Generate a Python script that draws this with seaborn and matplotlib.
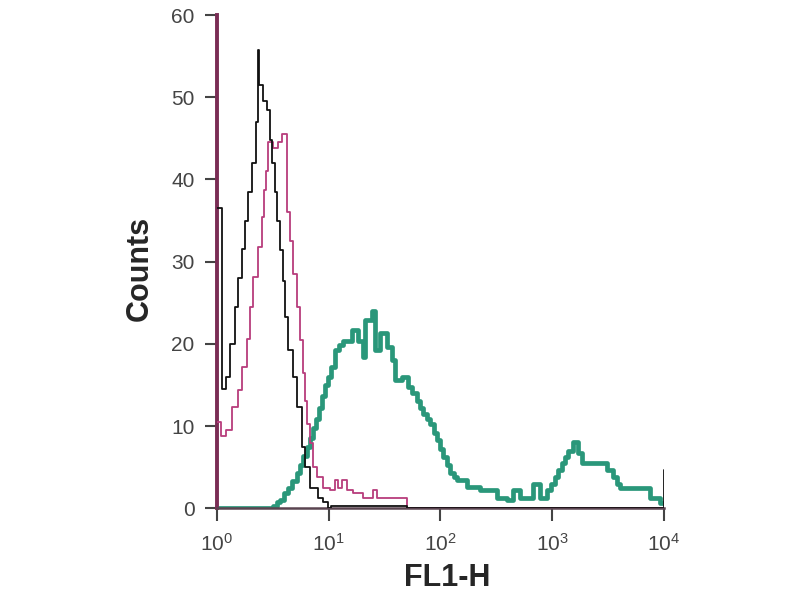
import numpy as np
import pandas as pd
import matplotlib
matplotlib.use("Agg")
import matplotlib.pyplot as plt
import seaborn as sns

# ---- data (FL1-H channel start, counts) step histograms ----
black_x = [1.00, 1.11, 1.20, 1.31, 1.45, 1.54, 1.67, 1.78, 1.89, 2.06, 2.23, 2.33,
           2.36, 2.38, 2.58, 2.80, 2.98, 3.10, 3.30, 3.44, 3.66, 3.90, 4.06, 4.32,
           4.79, 5.20, 5.77, 6.12, 6.79, 8.00, 8.90, 9.80, 10.5, 50.1, 10000]
black_y = [36.5, 14.5, 16.0, 20.0, 24.5, 28.0, 31.5, 35.0, 38.5, 42.0, 47.0, 51.0,
           55.7, 51.5, 49.5, 48.5, 44.8, 42.0, 38.5, 35.0, 31.4, 27.7, 23.2, 19.2,
           16.0, 12.3, 7.4, 5.0, 2.5, 1.2, 0.8, 0.0, 0.3, 0.0, 4.6]

magenta_x = [1.00, 1.09, 1.20, 1.36, 1.54, 1.67, 1.85, 1.97, 2.10, 2.33, 2.53, 2.63,
             2.74, 2.86, 3.17, 3.52, 3.82, 4.23, 4.50, 4.79, 5.20, 5.53, 5.89, 6.12,
             6.39, 6.79, 7.23, 7.85, 8.89, 10.3, 11.4, 12.1, 13.1, 14.6, 16.5, 20.3,
             24.9, 27.0, 50.1, 10000]
magenta_y = [10.5, 8.8, 9.5, 12.3, 14.4, 17.2, 20.6, 24.5, 28.1, 31.8, 35.4, 38.7,
             41.0, 44.5, 43.8, 44.5, 45.5, 36.0, 32.5, 28.5, 24.5, 20.5, 16.5, 13.0,
             10.3, 7.9, 5.0, 3.8, 2.5, 2.2, 3.4, 2.5, 3.4, 2.2, 1.8, 1.3,
             2.2, 1.2, 0.0, 0.0]

green_x = [1.00, 3.17, 3.44, 3.66, 3.98, 4.32, 4.69, 5.20, 5.53, 5.89, 6.39, 6.79,
           7.23, 7.69, 8.18, 8.70, 9.25, 9.85, 10.5, 11.4, 12.4, 13.4, 16.1, 18.3,
           20.3, 21.1, 24.4, 25.9, 28.8, 33.2, 36.8, 39.2, 45.2, 51.2, 55.6, 61.6,
           65.6, 69.7, 75.7, 80.5, 87.5, 93.0, 99.0, 105, 114, 122, 132, 141, 173,
           225, 321, 394, 445, 514, 673, 777, 897, 975, 1058, 1125, 1223, 1300,
           1384, 1535, 1700, 1845, 3090, 3499, 3793, 4038, 7499, 9210, 10000]
green_y = [0.0, 0.3, 0.7, 1.0, 1.8, 2.5, 3.3, 4.3, 5.2, 6.3, 7.4, 8.6,
           9.7, 10.8, 12.2, 13.6, 15.0, 16.0, 17.2, 19.2, 19.8, 20.4, 21.7, 20.4,
           18.4, 22.9, 24.0, 19.2, 21.3, 19.6, 18.0, 15.6, 16.0, 14.7, 14.0, 13.1,
           12.2, 11.5, 10.8, 10.3, 9.2, 8.3, 7.2, 6.2, 5.2, 4.3, 3.8, 3.4, 2.6,
           2.2, 1.3, 1.0, 2.2, 1.3, 3.0, 1.2, 2.2, 3.0, 3.8, 4.6, 5.5, 6.2,
           7.0, 8.0, 6.7, 5.5, 4.6, 3.8, 3.0, 2.4, 1.3, 0.6, 0.6]

y_ticks = [0, 10, 20, 30, 40, 50, 60]
x_ticks = [1, 10, 100, 1000, 10000]
x_tick_labels = [r"$10^{0}$", r"$10^{1}$", r"$10^{2}$", r"$10^{3}$", r"$10^{4}$"]

sns.set_style("ticks")
plt.rcParams["font.family"] = ["Liberation Sans", "DejaVu Sans"]
plt.rcParams["mathtext.fontset"] = "custom"
plt.rcParams["mathtext.rm"] = "Liberation Sans"
plt.rcParams["mathtext.it"] = "Liberation Sans"

fig = plt.figure(figsize=(8, 6), dpi=100)
ax = fig.add_axes([0.271, 0.153, 0.559, 0.822])

df_g = pd.DataFrame({"x": green_x, "y": green_y})
df_m = pd.DataFrame({"x": magenta_x, "y": magenta_y})
df_b = pd.DataFrame({"x": black_x, "y": black_y})

sns.lineplot(data=df_g, x="x", y="y", ax=ax, color="#2a977a", linewidth=3.4,
             drawstyle="steps-post", estimator=None, sort=False, zorder=2)
sns.lineplot(data=df_m, x="x", y="y", ax=ax, color="#b83d7c", linewidth=1.3,
             drawstyle="steps-post", estimator=None, sort=False, zorder=3)
sns.lineplot(data=df_b, x="x", y="y", ax=ax, color="#111111", linewidth=1.3,
             drawstyle="steps-post", estimator=None, sort=False, zorder=4)

ax.set_xscale("log")
ax.set_xlim(1, 10000)
ax.set_ylim(0, 60)
ax.set_xticks(x_ticks)
ax.set_xticklabels(x_tick_labels)
ax.xaxis.set_minor_locator(matplotlib.ticker.NullLocator())
ax.set_yticks(y_ticks)

for s in ["top", "right"]:
    ax.spines[s].set_visible(False)
ax.spines["left"].set_color("#7a2d55")
ax.spines["left"].set_linewidth(2.8)
ax.spines["bottom"].set_color("#5a4450")
ax.spines["bottom"].set_linewidth(1.8)

ax.tick_params(axis="y", length=9, width=1.5, color="#444444", pad=7,
               labelsize=15, labelcolor="#444444")
ax.tick_params(axis="x", length=9, width=1.5, color="#444444", pad=9,
               labelsize=15, labelcolor="#444444")

ax.set_ylabel("Counts", fontsize=22, fontweight="bold")
ax.set_xlabel("FL1-H", fontsize=22, fontweight="bold")
ax.yaxis.set_label_coords(-0.139, 0.486)
ax.xaxis.set_label_coords(0.515, -0.112)

fig.savefig("out.png", dpi=100, facecolor="white")
